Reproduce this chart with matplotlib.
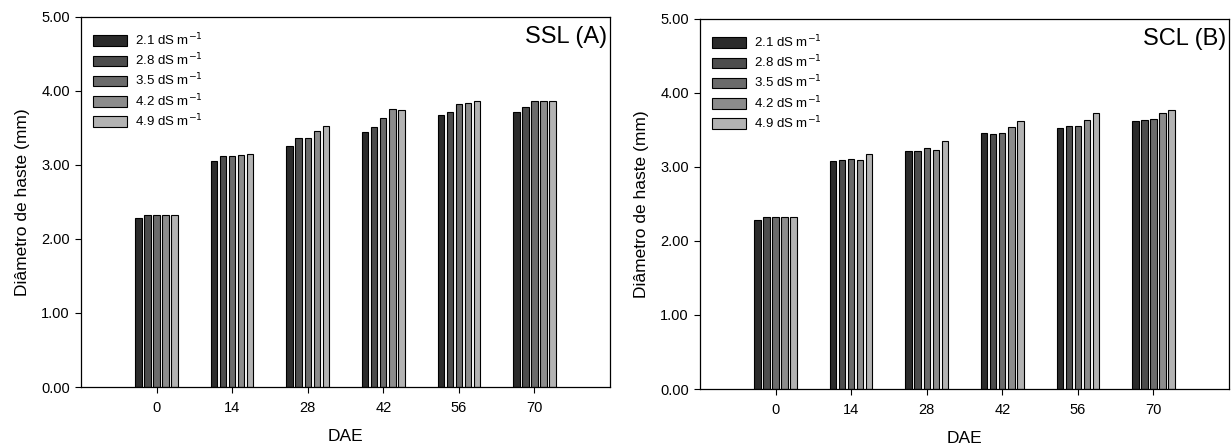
import numpy as np
import matplotlib.pyplot as plt

plt.rcParams['font.family'] = ['Liberation Sans', 'DejaVu Sans']

# dias apos emergencia
dae = ['0', '14', '28', '42', '56', '70']
niveis = ['2.1', '2.8', '3.5', '4.2', '4.9']
cores = ['#2b2b2b', '#4d4d4d', '#6b6b6b', '#8c8c8c', '#b3b3b3']

# SSL (A)
ssl_21 = [2.29, 3.06, 3.25, 3.45, 3.68, 3.71]
ssl_28 = [2.33, 3.12, 3.36, 3.52, 3.71, 3.79]
ssl_35 = [2.32, 3.12, 3.37, 3.63, 3.82, 3.86]
ssl_42 = [2.32, 3.13, 3.46, 3.75, 3.84, 3.87]
ssl_49 = [2.33, 3.15, 3.53, 3.74, 3.87, 3.86]

# SCL (B)
scl_21 = [2.29, 3.08, 3.21, 3.46, 3.53, 3.62]
scl_28 = [2.33, 3.10, 3.21, 3.45, 3.55, 3.64]
scl_35 = [2.32, 3.11, 3.25, 3.46, 3.56, 3.65]
scl_42 = [2.32, 3.10, 3.23, 3.54, 3.64, 3.73]
scl_49 = [2.33, 3.17, 3.35, 3.62, 3.73, 3.77]


def desenha_painel(ax, series, titulo):
    x = np.arange(len(dae))
    for i, vals in enumerate(series):
        ax.bar(x + (i - 2) * 0.12, vals, width=0.085, color=cores[i],
               edgecolor='black', linewidth=0.8,
               label=niveis[i] + ' dS m$^{-1}$')
    ax.set_xlim(-1, 6)
    ax.set_ylim(0, 5)
    ax.set_xticks(x)
    ax.set_xticklabels(dae)
    ax.set_yticks(np.arange(0, 5.01, 1))
    ax.set_yticklabels([f'{v:.2f}' for v in np.arange(0, 5.01, 1)])
    ax.tick_params(direction='out', length=4, width=0.8, labelsize=10.5, pad=4)
    ax.tick_params(axis='x', pad=6)
    for s in ax.spines.values():
        s.set_linewidth(0.9)
    ax.set_xlabel('DAE', fontsize=12.5, labelpad=10)
    ax.set_ylabel('Diâmetro de haste (mm)', fontsize=12.5, labelpad=8)
    ax.text(0.995, 0.975, titulo, transform=ax.transAxes, ha='right', va='top',
            fontsize=17)
    ax.legend(loc='upper left', bbox_to_anchor=(0.013, 0.975), frameon=False,
              fontsize=9.5, handlelength=2.6, handleheight=0.85,
              labelspacing=0.28, handletextpad=0.55, borderaxespad=0,
              borderpad=0.4)


fig = plt.figure(figsize=(12.31, 4.48), dpi=100)
ax1 = fig.add_axes([81 / 1231, 1 - 387 / 448, 529 / 1231, 370 / 448])
ax2 = fig.add_axes([700 / 1231, 1 - 389 / 448, 529 / 1231, 370 / 448])

desenha_painel(ax1, [ssl_21, ssl_28, ssl_35, ssl_42, ssl_49], 'SSL (A)')
desenha_painel(ax2, [scl_21, scl_28, scl_35, scl_42, scl_49], 'SCL (B)')

fig.savefig('out.png', dpi=100)
